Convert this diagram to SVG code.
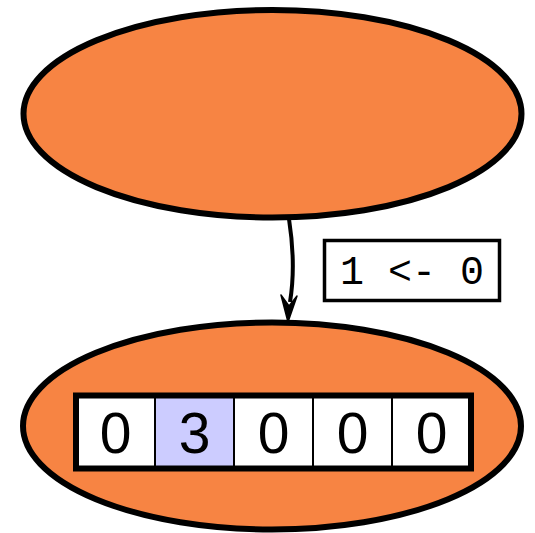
<svg xmlns="http://www.w3.org/2000/svg" width="535" height="533" viewBox="0 0 535 533">
<style>
.node{fill:#f78443;stroke:#000;stroke-width:6}
.cell{fill:#fff;stroke:#000;stroke-width:2}
.hl{fill:#ccccff}
.digit{font-family:"Liberation Sans",Arial,sans-serif;font-size:57px;text-anchor:middle;fill:#000}
.lbl{font-family:"Liberation Mono",monospace;font-size:40px;text-anchor:middle;fill:#000}
</style>
<rect width="535" height="533" fill="#fff"/>
<g id="connectors">
<path d="M289,219 C293,245 295,272 290,302" fill="none" stroke="#000" stroke-width="4"/>
<path d="M288,322 L281,295 L289,306 L297,296 Z" fill="#000" stroke="#000" stroke-width="1.5" stroke-linejoin="round"/>
<g id="edge-label">
<rect x="324.5" y="240.5" width="175" height="60" fill="#fff" stroke="#000" stroke-width="3.5"/>
<text class="lbl" x="412" y="284">1 &lt;- 0</text>
</g>
</g>
<g id="node-top">
<ellipse class="node" cx="272.5" cy="113.75" rx="249" ry="103.75"/>
</g>
<g id="node-bottom">
<ellipse class="node" cx="272" cy="426" rx="249" ry="103.5"/>
<rect class="cell" x="76" y="395.5" width="79" height="73"/>
<rect class="cell hl" x="155" y="395.5" width="79" height="73"/>
<rect class="cell" x="234" y="395.5" width="79" height="73"/>
<rect class="cell" x="313" y="395.5" width="79" height="73"/>
<rect class="cell" x="392" y="395.5" width="79" height="73"/>
<rect x="76" y="395.5" width="395" height="73" fill="none" stroke="#000" stroke-width="6"/>
<text class="digit" x="115.5" y="453">0</text>
<text class="digit" x="194.5" y="453">3</text>
<text class="digit" x="273.5" y="453">0</text>
<text class="digit" x="352.5" y="453">0</text>
<text class="digit" x="431.5" y="453">0</text>
</g>
</svg>
